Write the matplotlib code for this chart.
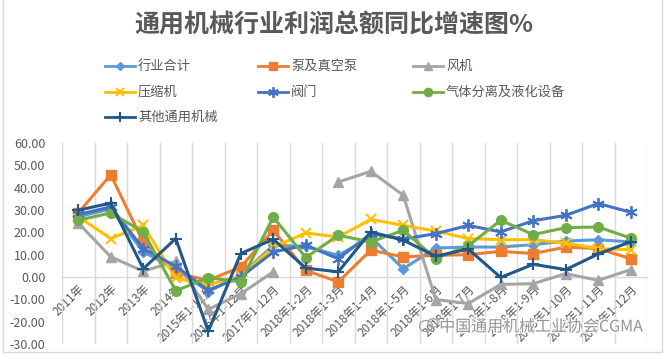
import numpy as np
import matplotlib
matplotlib.use("Agg")
import matplotlib.pyplot as plt
import matplotlib.patches as patches
import matplotlib.patheffects as pe
from matplotlib.lines import Line2D

plt.rcParams['font.family'] = ['Noto Sans CJK SC', 'DejaVu Sans']

# Categories (x axis)
categories = ['2011年', '2012年', '2013年', '2014年', '2015年1-12月', '2016年1-12月',
              '2017年1-12月'] + ['2018年1-%d月' % m for m in range(2, 13)]

# Series values (%)
total      = [27.0, 30.5, 11.2, 3.7, -6.5, 0.8, 14.2, 13.7, 9.7, 17.9, 3.7, 13.0, 13.4, 13.4, 14.5, 16.1, 16.7, 15.7]
pumps      = [28.7, 45.8, 15.5, 1.8, -1.5, 4.5, 20.9, 3.0, -2.2, 12.0, 9.0, 9.7, 10.0, 11.5, 10.5, 13.4, 12.7, 8.2]
fans       = [24.2, 9.0, 2.6, 7.0, -14.5, -7.5, 2.3, np.nan, 42.5, 47.3, 36.6, -10.1, -11.9, -3.3, -3.0, 1.5, -1.5, 3.3]
compressor = [27.0, 17.2, 23.1, -0.5, -3.5, 0.5, 13.4, 19.7, 17.9, 25.8, 23.1, 20.6, 17.2, 16.7, 16.7, 15.2, 12.7, 12.2]
valves     = [28.0, 31.4, 12.7, 4.8, -6.0, 0.0, 11.2, 14.2, 8.2, 19.4, 17.0, 19.4, 23.1, 20.2, 25.2, 27.6, 32.9, 29.0]
gas_sep    = [25.4, 28.7, 20.2, -6.2, -0.3, -2.2, 26.9, 8.7, 18.7, 15.7, 20.9, 8.2, 14.0, 25.4, 19.0, 22.1, 22.4, 17.4]
others     = [29.9, 33.1, 3.7, 17.2, -24.3, 10.5, 16.9, 4.0, 2.3, 20.2, 16.5, 9.3, 12.5, -0.2, 5.7, 3.3, 10.3, 15.8]

series = [
    ('行业合计', total, '#5B9BD5', dict(marker='D', markersize=5)),
    ('泵及真空泵', pumps, '#ED7D31', dict(marker='s', markersize=6.5)),
    ('风机', fans, '#A5A5A5', dict(marker='^', markersize=7.5)),
    ('压缩机', compressor, '#FFC000', dict(marker='x', markersize=7, markeredgewidth=1.5)),
    ('阀门', valves, '#4472C4', dict(marker=(6, 2, 0), markersize=9, markeredgewidth=1.3)),
    ('气体分离及液化设备', gas_sep, '#70AD47', dict(marker='o', markersize=7)),
    ('其他通用机械', others, '#22578A', dict(marker='+', markersize=9, markeredgewidth=1.5)),
]

W, H = 668, 359
fig = plt.figure(figsize=(W / 100, H / 100), dpi=100)
ax = fig.add_axes([62 / W, 1 - 344 / H, 585 / W, 201 / H])

x = np.arange(len(categories))
for name, vals, color, mk in series:
    ax.plot(x, vals, color=color, linewidth=2.2, markerfacecolor=color,
            markeredgecolor=color, label=name, zorder=3, **mk)

ax.set_xlim(-0.5, len(categories) - 0.5)
ax.set_ylim(-30, 60)
ax.set_yticks(np.arange(-30, 61, 10))
ax.set_yticklabels(['%.2f' % v for v in np.arange(-30, 61, 10)])

# vertical gridlines between categories
ax.set_xticks(x)
ax.set_xticks(np.arange(-0.5, len(categories), 1), minor=True)
ax.grid(True, which='minor', axis='x', color='#D9D9D9', linewidth=1.0, zorder=0)
ax.tick_params(axis='x', which='both', length=0)
ax.tick_params(axis='y', length=0, pad=12, labelsize=9, labelcolor='#595959')

for s in ['top', 'right', 'left']:
    ax.spines[s].set_visible(False)
ax.spines['bottom'].set_position(('data', 0))
ax.spines['bottom'].set_color('#D9D9D9')
ax.spines['bottom'].set_linewidth(1.0)

ax.set_xticklabels(categories, rotation=45, ha='right', va='top',
                   rotation_mode='anchor', fontsize=8.5, color='#595959')
ax.tick_params(axis='x', pad=4)

# title
fig.text(0.5, 1 - 25 / H, '通用机械行业利润总额同比增速图%', ha='center', va='center',
         fontsize=18, fontweight='bold', color='#595959')

# legend (3 columns)
col_x = [105, 258, 413]
row_y = [66, 92, 117]
for i, (name, vals, color, mk) in enumerate(series):
    cx = col_x[i % 3]
    cy = row_y[i // 3]
    ln = Line2D([cx / W, (cx + 30) / W], [1 - cy / H, 1 - cy / H], transform=fig.transFigure,
                color=color, linewidth=2.0)
    fig.add_artist(ln)
    mk2 = dict(mk)
    mk2['markersize'] = mk2['markersize'] * 0.85
    mkr = Line2D([(cx + 15) / W], [1 - cy / H], transform=fig.transFigure,
                 color=color, linestyle='none', markerfacecolor=color,
                 markeredgecolor=color, **mk2)
    fig.add_artist(mkr)
    fig.text((cx + 33) / W, 1 - cy / H, name, ha='left', va='center',
             fontsize=9.5, color='#595959')

# watermark
wm = fig.text(643 / W, 1 - 327 / H, '中国通用机械工业协会CGMA', ha='right', va='center',
              fontsize=11.5, color='#8c8c8c', alpha=0.9)
wm.set_path_effects([pe.withStroke(linewidth=2, foreground='white')])
for dx, dy, r in [(-6, 0, 6.5), (1, -3, 5)]:
    circ = patches.Ellipse(((432 + dx) / W, 1 - (326 + dy) / H), 2 * r / W, 1.7 * r / H,
                           transform=fig.transFigure, fill=False, edgecolor='#a0a0a0',
                           linewidth=0.9)
    fig.add_artist(circ)

# chart area border
border = patches.Rectangle((3 / W, 1 - 352 / H), 659 / W, 352 / H + 0.01,
                           transform=fig.transFigure, fill=False, edgecolor='#D9D9D9',
                           linewidth=1.0)
fig.add_artist(border)

fig.savefig('out.png', dpi=100)
